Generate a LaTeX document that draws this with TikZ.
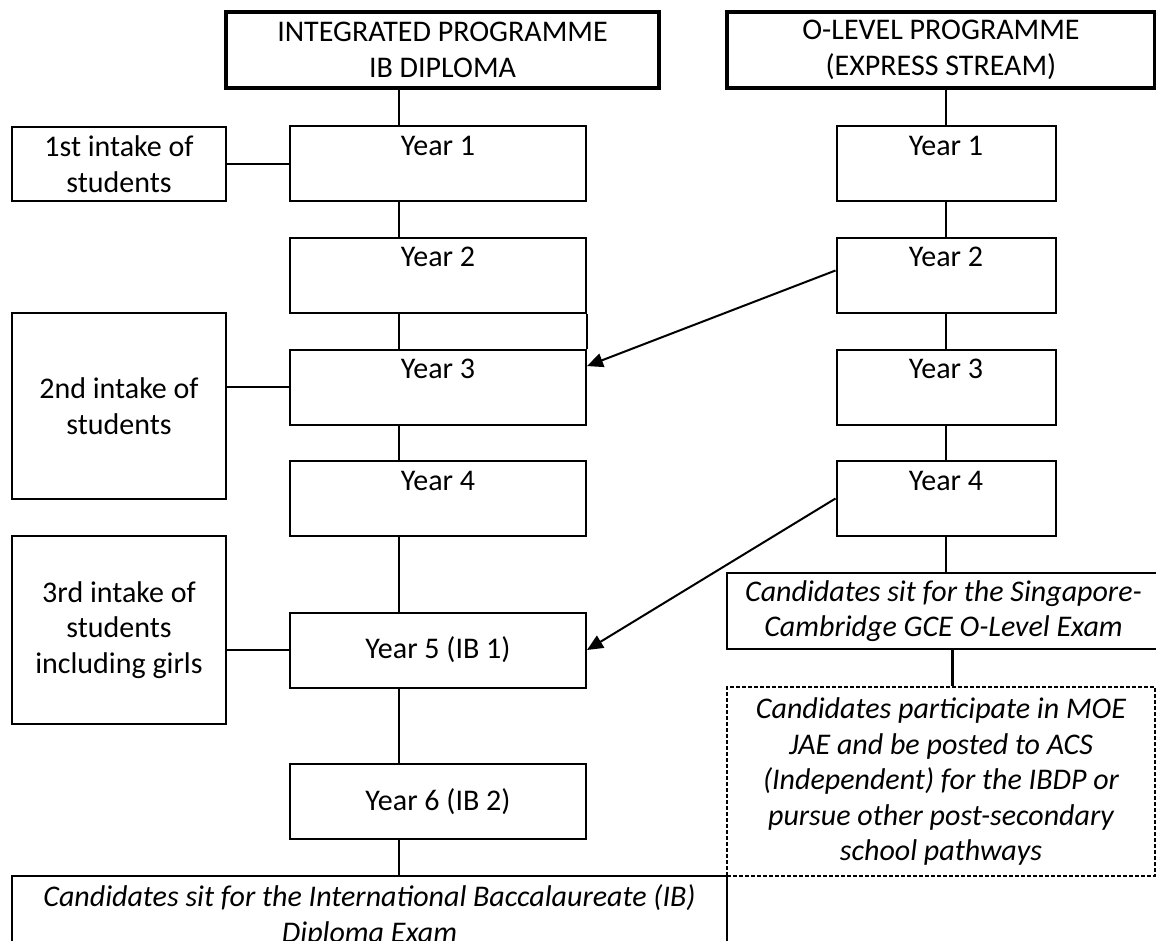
\documentclass[tikz,border=0pt]{standalone}
\usepackage{fontspec}
\setmainfont{Carlito}
\usetikzlibrary{arrows.meta}
\newcommand{\boxfont}{\fontsize{15}{17.75}\selectfont}

\begin{document}
\begin{tikzpicture}[x=0.5pt, y=-0.5pt,
		box/.style={draw, line width=1pt, inner sep=0pt, align=center, font=\boxfont},
		head/.style={box, line width=1.6pt, minimum width=216.5pt, minimum height=38pt},
		year/.style={box, minimum width=148pt, text height=14.5pt, text depth=23pt},
		yearmid/.style={box, minimum width=148pt, minimum height=37.5pt},
		olyear/.style={year, minimum width=109.5pt},
		intake/.style={box, minimum width=107pt},
		exam/.style={box, font=\boxfont\itshape},
		link/.style={line width=1pt},
		arr/.style={line width=1pt, -{Triangle[length=8pt, width=7pt]}}]
		
		\useasboundingbox (0,0) rectangle (1156,941);
		
		\node[head] (iph) at (442.5,50) {INTEGRATED PROGRAMME\\IB DIPLOMA};
		\node[head, minimum width=214pt] (olh) at (941,50) {O-LEVEL PROGRAMME\\(EXPRESS STREAM)};
		
		\node[intake, minimum height=37pt] (in1) at (119,164) {1st intake of\\students};
		\node[intake, minimum height=93pt] (in2) at (119,406) {2nd intake of\\students};
		\node[intake, minimum height=94pt] (in3) at (119,630) {3rd intake of\\students\\including girls};
		
		\node[year] (ip1) at (438,164) {Year 1};
		\node[year] (ip2) at (438,275.5) {Year 2};
		\node[year] (ip3) at (438,387) {Year 3};
		\node[year] (ip4) at (438,498.5) {Year 4};
		\node[yearmid] (ip5) at (438,650) {Year 5 (IB 1)};
		\node[yearmid] (ip6) at (438,801.5) {Year 6 (IB 2)};
		\node[exam, minimum width=357.5pt, minimum height=40pt] (ibexam) at (369.5,916) {Candidates sit for the International Baccalaureate (IB)\\Diploma Exam};
		
		\node[olyear] (ol1) at (946,164) {Year 1};
		\node[olyear] (ol2) at (946,275.5) {Year 2};
		\node[olyear] (ol3) at (946,387) {Year 3};
		\node[olyear] (ol4) at (946,498.5) {Year 4};
		\node[exam, minimum width=216.5pt, minimum height=38pt] (olexam) at (943.5,611) {Candidates sit for the Singapore-\\Cambridge GCE O-Level Exam};
		\node[exam, line width=0.6pt, dash pattern=on 2pt off 1pt, minimum width=214pt, minimum height=94.5pt] (jae) at (941,781.5) {Candidates participate in MOE\\JAE and be posted to ACS\\(Independent) for the IBDP or\\pursue other post-secondary\\school pathways};
		
		\coordinate (ipx) at (399,0);
		\coordinate (jx) at (952,0);
		
		\draw[link] (iph.south -| ipx) to (ip1.north -| ipx);
		\draw[link] (ip1.south -| ipx) to (ip2.north -| ipx);
		\draw[link] (ip2.south -| ipx) to (ip3.north -| ipx);
		\draw[link] (ip3.south -| ipx) to (ip4.north -| ipx);
		\draw[link] (ip4.south -| ipx) to (ip5.north -| ipx);
		\draw[link] (ip5.south -| ipx) to (ip6.north -| ipx);
		\draw[link] (ip6.south -| ipx) to (ibexam.north -| ipx);
		\draw[link] (ip2.south east) to (ip3.north east);
		
		\draw[link] (in1.east) to (ip1.west);
		\draw[link] (ip3.west -| in2.east) to (ip3.west);
		\draw[link] (ip5.west -| in3.east) to (ip5.west);
		
		\draw[link] (olh.south -| ol1.north) to (ol1.north);
		\draw[link] (ol1.south) to (ol2.north);
		\draw[link] (ol2.south) to (ol3.north);
		\draw[link] (ol3.south) to (ol4.north);
		\draw[link] (ol4.south) to (olexam.north -| ol4.south);
		\draw[link, line width=1.5pt] (olexam.south -| jx) to (jae.north -| jx);
		
		\draw[arr] ([yshift=2.5pt]ol2.west) to (ip3.8);
		\draw[arr] (ol4.west) to (ip5.east);
		
	\end{tikzpicture}
\end{document}
